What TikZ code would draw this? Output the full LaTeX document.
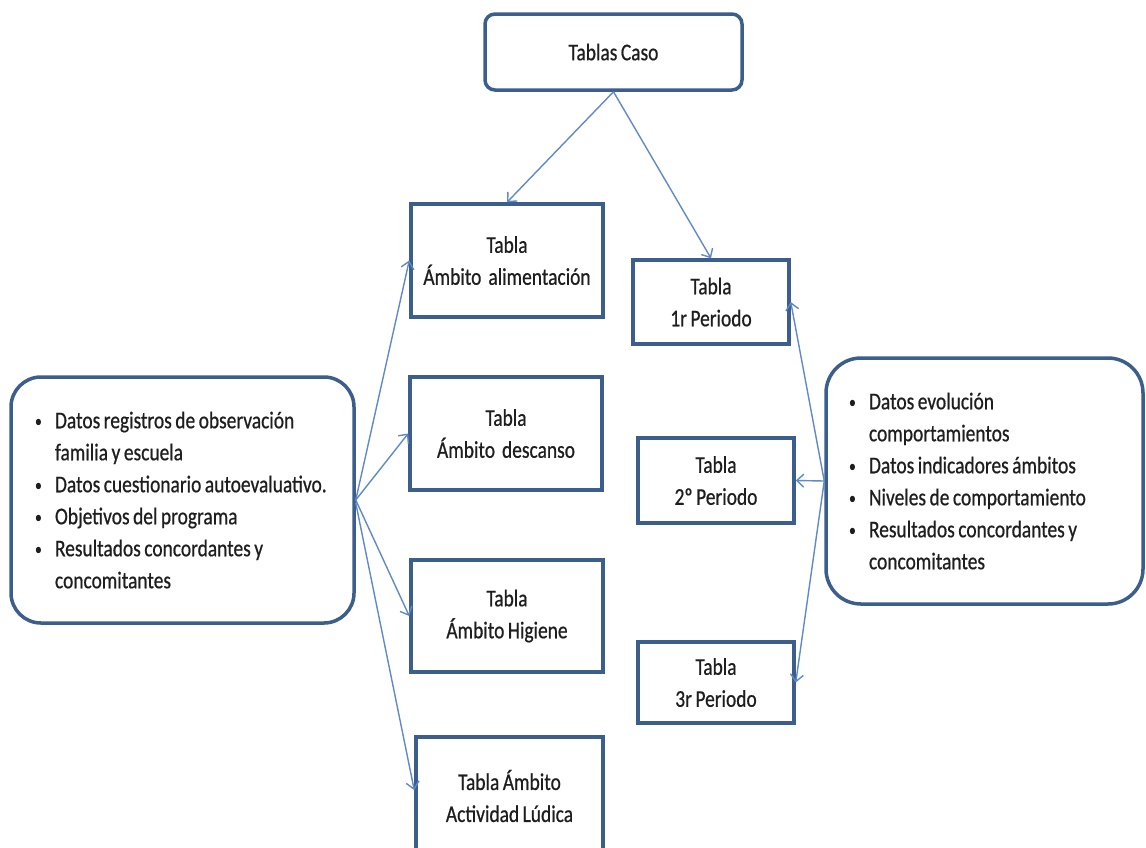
\documentclass[tikz,border=0pt]{standalone}
\usepackage{fontspec}
\setmainfont{Carlito}[FakeStretch=0.81, WordSpace=0.8, FakeBold=0.6]
\usetikzlibrary{arrows.meta}
\definecolor{bord}{HTML}{3B5E8C}
\definecolor{link}{HTML}{5F8AC7}
\definecolor{ink}{HTML}{1E1E1E}
\newcommand{\bul}[1]{\makebox[20pt][l]{\raisebox{1.5pt}{\fontsize{17}{17}\selectfont •}}#1}
\newcommand{\cont}[1]{\hspace*{20pt}#1}
\begin{document}
\begin{tikzpicture}[x=1pt,y=-1pt,
  every node/.style={font=\fontsize{24}{32}\selectfont, text=ink},
  tbox/.style={draw=bord, line width=3.5pt, fill=white, align=center, inner sep=0pt},
  rbox/.style={tbox, rounded corners=10pt},
  lbox/.style={draw=bord, line width=3.5pt, fill=white, align=flush left, inner sep=0pt},
  link/.style={draw=link, line width=1.4pt, -{Straight Barb[length=7pt,width=13pt]}}]
\useasboundingbox (0,0) rectangle (1146,847);
\begin{scope}
\clip (0,0) rectangle (1146,847);
% top node
\node[rbox, minimum width=257pt, minimum height=76pt] (caso) at (613.5,52) {Tablas Caso};
% domain tables
\node[tbox, minimum width=192pt, minimum height=113pt] (ali) at (507,260.5) {Tabla\\Ámbito\ \ alimentación};
\node[tbox, minimum width=192pt, minimum height=113pt] (des) at (506,433.5) {Tabla\\Ámbito\ \ descanso};
\node[tbox, minimum width=192pt, minimum height=112pt] (hig) at (507,616) {Tabla\\Ámbito Higiene};
\node[tbox, minimum width=187pt, minimum height=118pt] (lud) at (509.5,796) {Tabla Ámbito\\Actividad Lúdica};
% period tables
\node[tbox, minimum width=156pt, minimum height=84pt] (p1) at (711,302) {Tabla\\1r Periodo};
\node[tbox, minimum width=156pt, minimum height=85pt] (p2) at (716,480.5) {Tabla\\2º Periodo};
\node[tbox, minimum width=156pt, minimum height=81pt] (p3) at (716,682.5) {Tabla\\3r Periodo};
% data sources
\node[lbox, rounded corners=30pt, minimum width=343pt, minimum height=246pt, text width=295pt] (lft) at (182.5,500)
  {\bul{Datos registros de observación}\\\cont{familia y escuela}\\\bul{Datos cuestionario autoevaluativo.}\\\bul{Objetivos del programa}\\\bul{Resultados concordantes y}\\\cont{concomitantes}};
\node[lbox, rounded corners=35pt, minimum width=317pt, minimum height=246pt, text width=271pt] (rgt) at (984.5,481)
  {\bul{Datos evolución}\\\cont{comportamientos}\\\bul{Datos indicadores ámbitos}\\\bul{Niveles de comportamiento}\\\bul{Resultados concordantes y}\\\cont{concomitantes}};
% connectors
\draw[link] (caso.south) -- (ali.north);
\draw[link] (caso.south) -- (p1.north);
\draw[link] (lft.east) -- (ali.west);
\draw[link] (lft.east) -- (des.west);
\draw[link] (lft.east) -- (hig.west);
\draw[link] ([yshift=-3pt]lft.east) -- ([yshift=6pt]lud.west);
\draw[link] (rgt.west) -- (p1.east);
\draw[link] (rgt.west) -- (p2.east);
\draw[link] (rgt.west) -- (p3.east);
\end{scope}
\end{tikzpicture}
\end{document}
